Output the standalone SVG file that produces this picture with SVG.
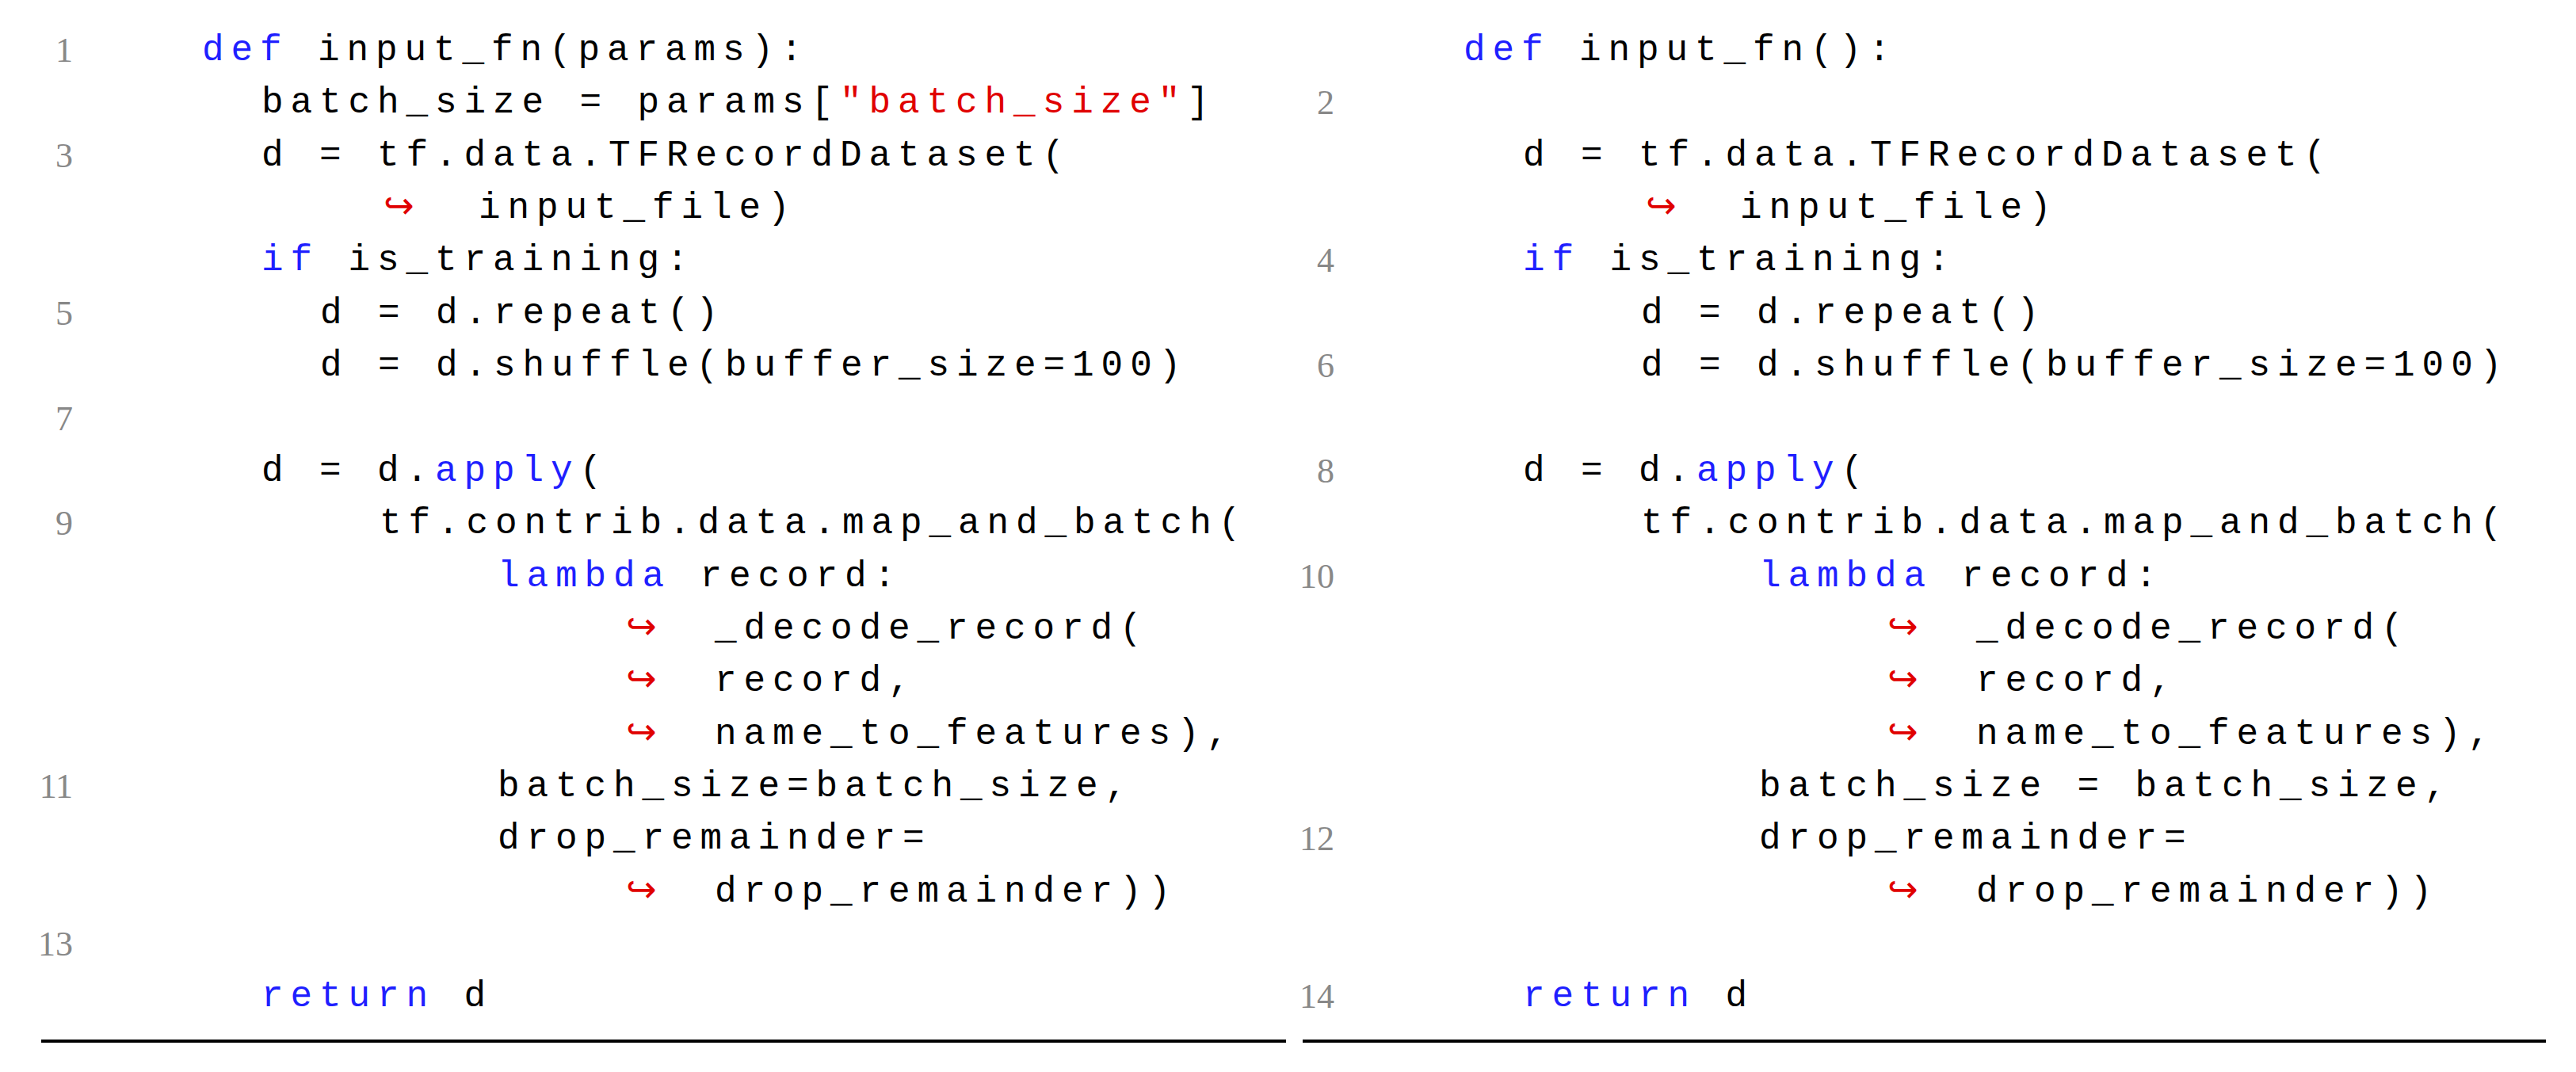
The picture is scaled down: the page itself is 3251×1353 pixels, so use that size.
<svg xmlns="http://www.w3.org/2000/svg" width="3251" height="1353" viewBox="0 0 3251 1353">
<style>
.c{font-family:"Liberation Mono",monospace;font-size:46px;letter-spacing:8.9px;fill:#000;white-space:pre}
.k{fill:#1f1fff}.s{fill:#e00000}
.a{font-family:"DejaVu Sans",sans-serif;font-size:46px;fill:#e00000}
.n{font-family:"Liberation Serif",serif;font-size:44px;fill:#888;text-anchor:end}
</style>
<rect width="3251" height="1353" fill="#fff"/>
<g id="left" transform="translate(0,-2)">
<text class="c" x="255" y="78" xml:space="preserve"><tspan class="k">def</tspan> input_fn(params):</text>
<text class="c" x="330" y="144" xml:space="preserve">batch_size = params[<tspan class="s">"batch_size"</tspan>]</text>
<text class="c" x="330" y="211" xml:space="preserve">d = tf.data.TFRecordDataset(</text>
<text class="a" x="484" y="277">↪</text><text class="c" x="604" y="277">input_file)</text>
<text class="c" x="330" y="343" xml:space="preserve"><tspan class="k">if</tspan> is_training:</text>
<text class="c" x="404" y="410" xml:space="preserve">d = d.repeat()</text>
<text class="c" x="404" y="476" xml:space="preserve">d = d.shuffle(buffer_size=100)</text>
<text class="c" x="330" y="609" xml:space="preserve">d = d.<tspan class="k">apply</tspan>(</text>
<text class="c" x="479" y="675" xml:space="preserve">tf.contrib.data.map_and_batch(</text>
<text class="c" x="628" y="742" xml:space="preserve"><tspan class="k">lambda</tspan> record:</text>
<text class="a" x="790" y="808">↪</text><text class="c" x="902" y="808">_decode_record(</text>
<text class="a" x="790" y="874">↪</text><text class="c" x="902" y="874">record,</text>
<text class="a" x="790" y="941">↪</text><text class="c" x="902" y="941">name_to_features),</text>
<text class="c" x="628" y="1007" xml:space="preserve">batch_size=batch_size,</text>
<text class="c" x="628" y="1073" xml:space="preserve">drop_remainder=</text>
<text class="a" x="790" y="1140">↪</text><text class="c" x="902" y="1140">drop_remainder))</text>
<text class="c" x="330" y="1272" xml:space="preserve"><tspan class="k">return</tspan> d</text>
</g>
<g id="left-numbers">
<text class="n" x="92" y="78">1</text><text class="n" x="92" y="211">3</text><text class="n" x="92" y="410">5</text><text class="n" x="92" y="543">7</text><text class="n" x="92" y="675">9</text><text class="n" x="92" y="1007">11</text><text class="n" x="92" y="1206">13</text>
</g>
<g id="right" transform="translate(0,-2)">
<text class="c" x="1847" y="78" xml:space="preserve"><tspan class="k">def</tspan> input_fn():</text>
<text class="c" x="1922" y="211" xml:space="preserve">d = tf.data.TFRecordDataset(</text>
<text class="a" x="2077" y="277">↪</text><text class="c" x="2196" y="277">input_file)</text>
<text class="c" x="1922" y="343" xml:space="preserve"><tspan class="k">if</tspan> is_training:</text>
<text class="c" x="2071" y="410" xml:space="preserve">d = d.repeat()</text>
<text class="c" x="2071" y="476" xml:space="preserve">d = d.shuffle(buffer_size=100)</text>
<text class="c" x="1922" y="609" xml:space="preserve">d = d.<tspan class="k">apply</tspan>(</text>
<text class="c" x="2071" y="675" xml:space="preserve">tf.contrib.data.map_and_batch(</text>
<text class="c" x="2220" y="742" xml:space="preserve"><tspan class="k">lambda</tspan> record:</text>
<text class="a" x="2382" y="808">↪</text><text class="c" x="2494" y="808">_decode_record(</text>
<text class="a" x="2382" y="874">↪</text><text class="c" x="2494" y="874">record,</text>
<text class="a" x="2382" y="941">↪</text><text class="c" x="2494" y="941">name_to_features),</text>
<text class="c" x="2220" y="1007" xml:space="preserve">batch_size = batch_size,</text>
<text class="c" x="2220" y="1073" xml:space="preserve">drop_remainder=</text>
<text class="a" x="2382" y="1140">↪</text><text class="c" x="2494" y="1140">drop_remainder))</text>
<text class="c" x="1922" y="1272" xml:space="preserve"><tspan class="k">return</tspan> d</text>
</g>
<g id="right-numbers">
<text class="n" x="1684" y="144">2</text><text class="n" x="1684" y="343">4</text><text class="n" x="1684" y="476">6</text><text class="n" x="1684" y="609">8</text><text class="n" x="1684" y="742">10</text><text class="n" x="1684" y="1073">12</text><text class="n" x="1684" y="1272">14</text>
</g>
<g id="rules" stroke="#000" stroke-width="4">
<line x1="52" y1="1314" x2="1623" y2="1314"/>
<line x1="1644" y1="1314" x2="3213" y2="1314"/>
</g>
</svg>
